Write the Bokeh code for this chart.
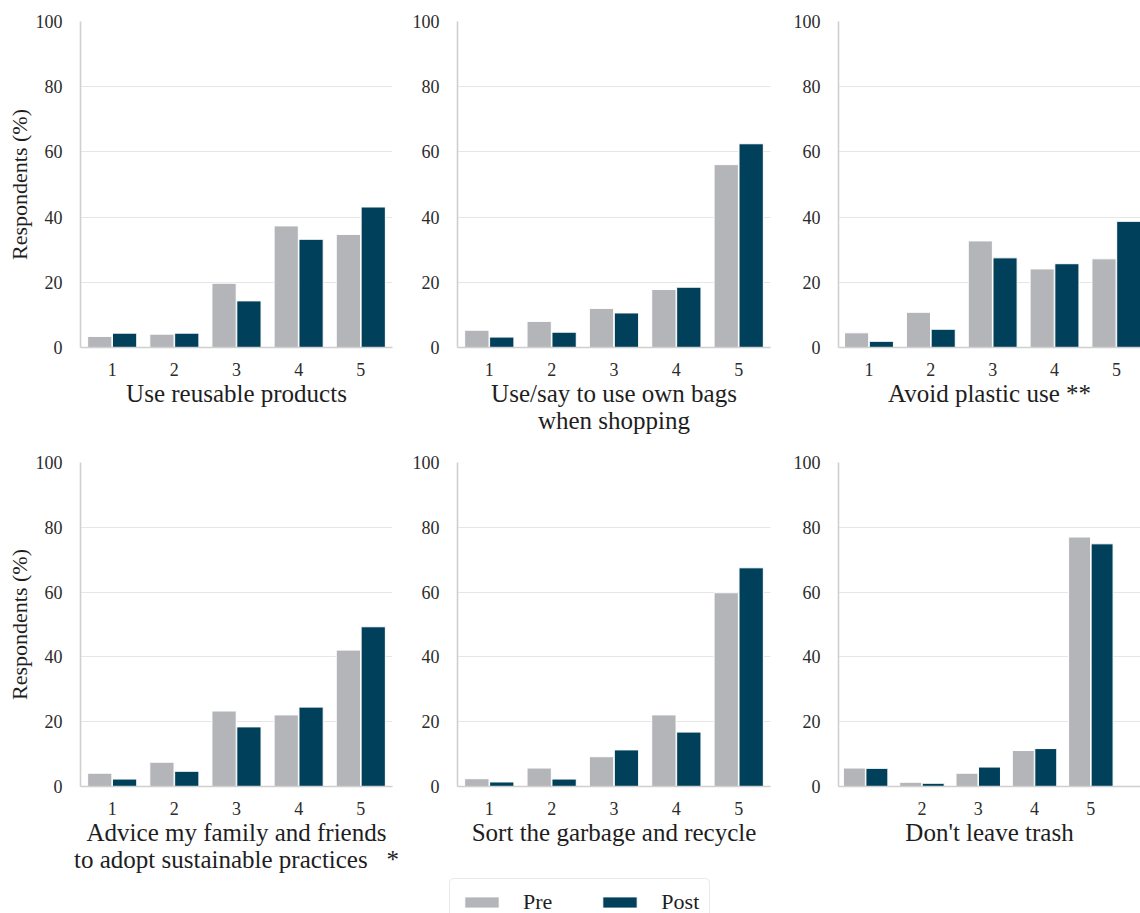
from bokeh.plotting import figure
from bokeh.layouts import column, row
from bokeh.models import Range1d, FixedTicker, ColumnDataSource, Legend, LegendItem
from bokeh.transform import dodge
from bokeh.embed import file_html
from bokeh.resources import INLINE

# Likert levels (1 = never ... 5 = always)
levels = [1, 2, 3, 4, 5]

NBSP = "\u00a0"
titles = [
    "Use reusable products",
    "Use/say to use own bags\nwhen shopping",
    "Avoid plastic use **",
    "Advice my family and friends\nto adopt sustainable practices" + NBSP * 3 + "*",
    "Sort the garbage and recycle",
    "Don't leave trash",
]

# Share of respondents (%) per level, before and after
reusable_pre = [3.4, 4.1, 19.7, 37.3, 34.7]
reusable_post = [4.4, 4.4, 14.3, 33.2, 43.1]
bags_pre = [5.3, 8.0, 12.0, 17.8, 56.1]
bags_post = [3.2, 4.7, 10.6, 18.5, 62.5]
plastic_pre = [4.5, 10.8, 32.7, 24.1, 27.2]
plastic_post = [1.9, 5.6, 27.5, 25.7, 38.7]
advice_pre = [4.1, 7.5, 23.3, 22.1, 42.1]
advice_post = [2.3, 4.7, 18.4, 24.5, 49.3]
sort_pre = [2.4, 5.7, 9.2, 22.1, 59.8]
sort_post = [1.4, 2.3, 11.3, 16.8, 67.5]
trash_pre = [5.7, 1.3, 4.1, 11.1, 77.0]
trash_post = [5.6, 1.0, 6.0, 11.7, 74.9]

y_ticks = [0, 20, 40, 60, 80, 100]
x_ticks_full = [1, 2, 3, 4, 5]
x_ticks_trash = [2, 3, 4, 5]
legend_labels = ["Pre", "Post"]

series = [
    (reusable_pre, reusable_post),
    (bags_pre, bags_post),
    (plastic_pre, plastic_post),
    (advice_pre, advice_post),
    (sort_pre, sort_post),
    (trash_pre, trash_post),
]

PRE_COLOR = "#b4b5b9"
POST_COLOR = "#01405a"
FONT = "Liberation Serif"


def make_panel(title, pre, post, ticks, x_start, x_end, width, height,
               left, right, top, bottom, ylabel):
    src = ColumnDataSource(dict(level=levels, pre=pre, post=post))
    p = figure(width=width, height=height, output_backend="svg",
               toolbar_location=None, x_range=Range1d(x_start, x_end),
               y_range=Range1d(0, 100),
               min_border_left=left, min_border_right=right,
               min_border_top=top, min_border_bottom=bottom)
    p.outline_line_color = None
    p.vbar(x=dodge("level", -0.2, range=p.x_range), top="pre", width=0.39,
           source=src, fill_color=PRE_COLOR, line_color="white", line_width=1)
    p.vbar(x=dodge("level", 0.2, range=p.x_range), top="post", width=0.39,
           source=src, fill_color=POST_COLOR, line_color="white", line_width=1)

    p.xgrid.visible = False
    p.ygrid.grid_line_color = "#e6e6e6"
    p.ygrid.grid_line_width = 1
    p.ygrid.ticker = FixedTicker(ticks=y_ticks)

    p.xaxis.ticker = FixedTicker(ticks=ticks)
    p.yaxis.ticker = FixedTicker(ticks=y_ticks)
    for ax in (p.xaxis[0], p.yaxis[0]):
        ax.axis_line_color = "#cfcfcf"
        ax.axis_line_width = 1.6
        ax.major_tick_line_color = None
        ax.minor_tick_line_color = None
        ax.major_label_text_font = FONT
        ax.major_label_text_font_size = "18px"
        ax.major_label_text_color = "#2b2b2b"
        ax.axis_label_text_font = FONT
        ax.axis_label_text_font_style = "normal"
        ax.axis_label_text_color = "#1e1e1e"

    p.xaxis.major_label_standoff = 9
    p.xaxis.axis_label = title
    p.xaxis.axis_label_text_font_size = "25px"
    p.xaxis.axis_label_text_line_height = 1.0
    p.xaxis.axis_label_standoff = 1

    p.yaxis.major_label_standoff = 12
    if ylabel:
        p.yaxis.axis_label = "Respondents (%)"
        p.yaxis.axis_label_text_font_size = "22px"
        p.yaxis.axis_label_standoff = 1
    return p


# column geometry: (figure width, left border, right border)
cols = [(400, 80, 8), (390, 57, 20), (350, 46, 0)]
x_spans = [(0.49, 5.51), (0.49, 5.51), (0.507, 5.39)]

panels = []
for i, (title, (pre, post)) in enumerate(zip(titles, series)):
    r, c = divmod(i, 3)
    w, lb, rb = cols[c]
    if r == 0:
        h, tb, bb = 440, 21, 93
    else:
        h, tb, bb = 435, 22, 88
    xs, xe = x_spans[c]
    ticks = x_ticks_full
    if i == 5:
        xs, xe = 0.518, 5.882
        ticks = x_ticks_trash
    panels.append(make_panel(title, pre, post, ticks, xs, xe, w, h, lb, rb, tb, bb,
                             ylabel=(c == 0)))

# shared legend strip along the bottom; the key swatches are zero-height proxies
leg_fig = figure(width=1140, height=38, output_backend="svg", toolbar_location=None,
                 x_range=Range1d(0, 1), y_range=Range1d(0, 1),
                 min_border_left=0, min_border_right=0,
                 min_border_top=0, min_border_bottom=0)
leg_fig.axis.visible = False
leg_fig.grid.visible = False
leg_fig.outline_line_color = None
proxy = ColumnDataSource(dict(x=[0], top=[0]))
swatch_pre = leg_fig.vbar(x="x", top="top", width=0, source=proxy,
                          fill_color=PRE_COLOR, line_color="white", line_width=1)
swatch_post = leg_fig.vbar(x="x", top="top", width=0, source=proxy,
                           fill_color=POST_COLOR, line_color="white", line_width=1)
legend = Legend(items=[LegendItem(label=legend_labels[0], renderers=[swatch_pre]),
                       LegendItem(label=legend_labels[1], renderers=[swatch_post])],
                orientation="horizontal", location=(449, -13))
legend.label_text_font = FONT
legend.label_text_font_size = "22px"
legend.label_text_color = "#1e1e1e"
legend.glyph_width = 43
legend.glyph_height = 14
legend.label_standoff = 20
legend.spacing = 46
legend.padding = 10
legend.border_line_color = "#d6d6d6"
legend.border_line_width = 1.5
legend.border_radius = 5
legend.background_fill_alpha = 1
leg_fig.add_layout(legend, "center")

layout = column(row(*panels[:3]), row(*panels[3:]), leg_fig)

open("out.html", "w").write(file_html(layout, INLINE))
